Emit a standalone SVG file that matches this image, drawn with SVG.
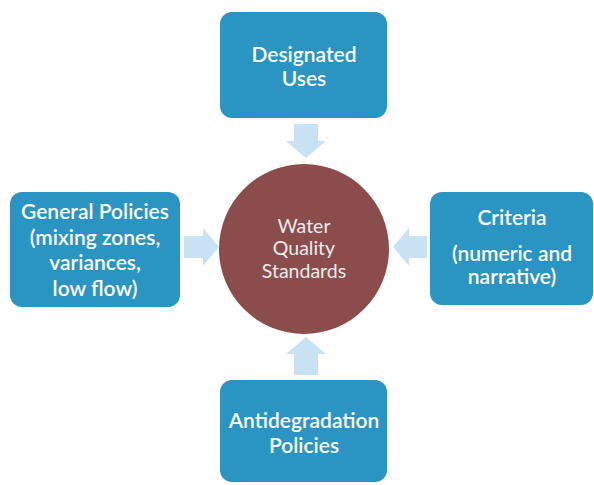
<svg xmlns="http://www.w3.org/2000/svg" width="594" height="485" viewBox="0 0 594 485">
<style>
.box{fill:#2a94c2;}
.arr{fill:#c8e1f3;}
.t{font-family:Lato,"Open Sans",sans-serif;fill:#ffffff;text-anchor:middle;font-size:21px;font-weight:600;}
.c{font-family:Lato,"Open Sans",sans-serif;fill:#f0ecec;text-anchor:middle;font-size:19.5px;}
</style>
<rect width="594" height="485" fill="#ffffff"/>
<g id="connectors">
<polygon class="arr" points="294,124 318,124 318,141 326,141 306,158 286,141 294,141"/>
<polygon class="arr" points="294,375 318,375 318,354 326,354 306,337 286,354 294,354"/>
<polygon class="arr" points="184,236 203,236 203,228 219,247 203,266 203,258 184,258"/>
<polygon class="arr" points="427,236 409,236 409,228 393,247 409,266 409,258 427,258"/>
</g>
<g id="center">
<circle cx="304" cy="249" r="85" fill="#8a4d4b"/>
<text class="c" x="304" y="233">Water</text>
<text class="c" x="304" y="255">Quality</text>
<text class="c" x="304" y="278">Standards</text>
</g>
<g id="designated-uses">
<rect class="box" x="220" y="12" width="167" height="106" rx="12"/>
<text class="t" x="304" y="62">Designated</text>
<text class="t" x="304" y="86">Uses</text>
</g>
<g id="general-policies">
<rect class="box" x="10" y="192" width="170" height="115" rx="12"/>
<text class="t" x="95" y="219">General Policies</text>
<text class="t" x="95" y="245">(mixing zones,</text>
<text class="t" x="95" y="270">variances,</text>
<text class="t" x="95" y="296">low flow)</text>
</g>
<g id="criteria">
<rect class="box" x="430" y="192" width="163" height="113" rx="12"/>
<text class="t" x="512" y="225">Criteria</text>
<text class="t" x="512" y="261">(numeric and</text>
<text class="t" x="512" y="284">narrative)</text>
</g>
<g id="antidegradation">
<rect class="box" x="220" y="380" width="167" height="102" rx="12"/>
<text class="t" x="304" y="428">Antidegradation</text>
<text class="t" x="304" y="453">Policies</text>
</g>
</svg>
